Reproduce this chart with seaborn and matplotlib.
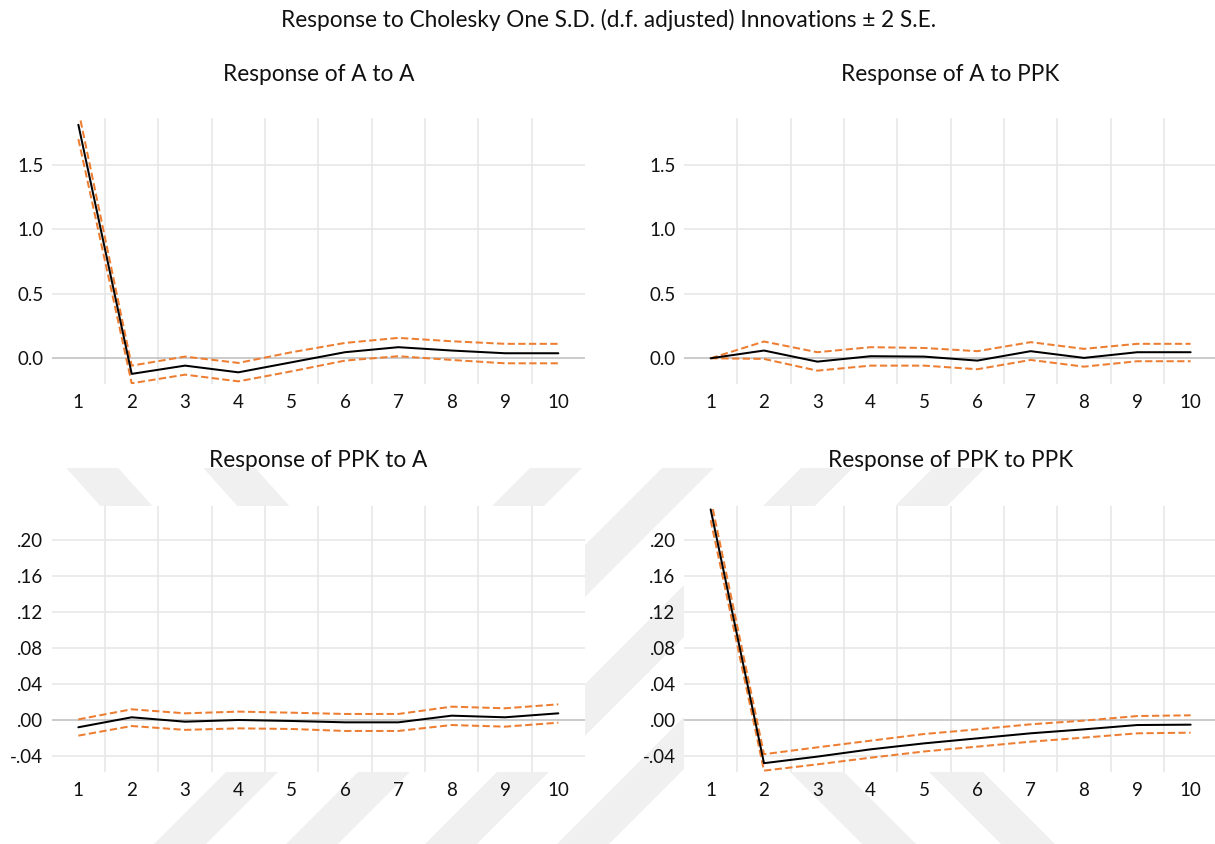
import numpy as np
import pandas as pd
import seaborn as sns
import matplotlib
matplotlib.use("Agg")
import matplotlib.pyplot as plt
from matplotlib.patches import Polygon

# ---- impulse responses (periods 1..10) --------------------------------------
periods = list(range(1, 11))

a_to_a = [1.811, -0.121, -0.057, -0.109, -0.031, 0.047, 0.086, 0.060, 0.039, 0.039]
a_to_a_hi = [1.925, -0.057, 0.013, -0.036, 0.047, 0.119, 0.158, 0.132, 0.112, 0.112]
a_to_a_lo = [1.700, -0.194, -0.127, -0.179, -0.101, -0.018, 0.016, -0.013, -0.039, -0.039]

a_to_ppk = [0.000, 0.060, -0.026, 0.016, 0.013, -0.018, 0.055, 0.003, 0.047, 0.047]
a_to_ppk_hi = [0.000, 0.130, 0.047, 0.086, 0.080, 0.055, 0.125, 0.073, 0.112, 0.112]
a_to_ppk_lo = [0.000, -0.005, -0.096, -0.057, -0.057, -0.085, -0.013, -0.065, -0.023, -0.023]

ppk_to_a = [-0.0081, 0.0030, -0.0019, 0.0000, -0.0011, -0.0026, -0.0026, 0.0048, 0.0030, 0.0074]
ppk_to_a_hi = [0.0007, 0.0119, 0.0074, 0.0093, 0.0081, 0.0067, 0.0067, 0.0148, 0.0130, 0.0174]
ppk_to_a_lo = [-0.0174, -0.0067, -0.0110, -0.0093, -0.0100, -0.0122, -0.0122, -0.0056, -0.0074, -0.0030]

ppk_to_ppk = [0.234, -0.0480, -0.0407, -0.0326, -0.0260, -0.0204, -0.0148, -0.0104, -0.0056, -0.0052]
ppk_to_ppk_hi = [0.246, -0.0380, -0.0304, -0.0230, -0.0156, -0.0104, -0.0048, -0.0007, 0.0044, 0.0052]
ppk_to_ppk_lo = [0.222, -0.0563, -0.0493, -0.0419, -0.0350, -0.0296, -0.0241, -0.0196, -0.0148, -0.0141]

panel_titles = ["Response of A to A", "Response of A to PPK",
                "Response of PPK to A", "Response of PPK to PPK"]
main_title = "Response to Cholesky One S.D. (d.f. adjusted) Innovations \u00b1 2 S.E."

top_ticks = [0.0, 0.5, 1.0, 1.5]
top_labels = ["0.0", "0.5", "1.0", "1.5"]
bottom_ticks = [-0.04, 0.00, 0.04, 0.08, 0.12, 0.16, 0.20]
bottom_labels = ["-.04", ".00", ".04", ".08", ".12", ".16", ".20"]

# ---- style -------------------------------------------------------------------
sns.set_theme(style="white")
plt.rcParams["font.family"] = ["Lato", "DejaVu Sans"]

RESP_COLOR = "#000000"
BAND_COLOR = "#ED7D31"
GRID_COLOR = "#E6E6E6"
ZERO_COLOR = "#BDBDBD"
MARK_COLOR = "#F0F0F0"
TEXT_COLOR = "#111111"

W, H = 1215, 844
fig = plt.figure(figsize=(W / 100, H / 100), dpi=100)
fig.patch.set_facecolor("white")


def px_axes(left, top, right, bottom):
    return fig.add_axes([left / W, 1 - bottom / H, (right - left) / W, (bottom - top) / H])


def fig_pt(x, y):
    return (x / W, 1 - y / H)


# ---- faint page watermark (diagonal bands behind the panels) -----------------
def band(x_left, width, y_ref, y_top, y_bot, slope):
    # slope = dx/dy; positive leans "\", negative leans "/"
    xs_top = x_left + slope * (y_top - y_ref)
    xs_bot = x_left + slope * (y_bot - y_ref)
    verts = [fig_pt(xs_top, y_top), fig_pt(xs_top + width, y_top),
             fig_pt(xs_bot + width, y_bot), fig_pt(xs_bot, y_bot)]
    fig.add_artist(Polygon(verts, closed=True, transform=fig.transFigure,
                           facecolor=MARK_COLOR, edgecolor="none", zorder=-5))


for xl in (225, 357, 496, 628):          # long "/" bands
    band(xl, 52, 773, 468, 844, -1.0)
for xl in (68, 205):                      # upper "\" bands
    band(xl, 52, 470, 468, 600, 0.9)
for xl in (791, 930):                     # lower "\" bands
    band(xl, 54, 773, 720, 844, 1.0)

axes = [
    px_axes(51.7, 118.3, 585.0, 384.0),
    px_axes(684.0, 118.3, 1217.3, 384.0),
    px_axes(51.7, 506.0, 585.0, 772.0),
    px_axes(684.0, 506.0, 1217.3, 772.0),
]

panels = [
    (a_to_a, a_to_a_hi, a_to_a_lo, top_ticks, top_labels, (-0.1995, 1.861)),
    (a_to_ppk, a_to_ppk_hi, a_to_ppk_lo, top_ticks, top_labels, (-0.1995, 1.861)),
    (ppk_to_a, ppk_to_a_hi, ppk_to_a_lo, bottom_ticks, bottom_labels, (-0.0578, 0.2378)),
    (ppk_to_ppk, ppk_to_ppk_hi, ppk_to_ppk_lo, bottom_ticks, bottom_labels, (-0.0578, 0.2378)),
]

dash = (0, (3.6, 1.7))
title_baselines = [81, 81, 466.7, 466.7]

for ax, title, base, (resp, hi, lo, yt, yl, ylim) in zip(axes, panel_titles, title_baselines, panels):
    ax.set_facecolor("white")
    ax.set_zorder(1)
    df = pd.DataFrame({"period": periods, "resp": resp, "hi": hi, "lo": lo})

    # grid: horizontal at y ticks, vertical between periods
    for y in yt:
        ax.axhline(y, color=ZERO_COLOR if y == 0 else GRID_COLOR,
                   lw=1.1, zorder=0.6 if y == 0 else 0.5)
    for xv in np.arange(1.5, 10.0, 1.0):
        ax.axvline(xv, color=GRID_COLOR, lw=1.1, zorder=0.4)

    sns.lineplot(data=df, x="period", y="hi", ax=ax, color=BAND_COLOR,
                 lw=1.45, linestyle=dash, zorder=2)
    sns.lineplot(data=df, x="period", y="lo", ax=ax, color=BAND_COLOR,
                 lw=1.45, linestyle=dash, zorder=2)
    sns.lineplot(data=df, x="period", y="resp", ax=ax, color=RESP_COLOR,
                 lw=1.45, zorder=3)

    ax.set_xlim(0.5, 10.5)
    ax.set_ylim(*ylim)
    ax.set_xticks(periods)
    ax.set_xticklabels([str(p) for p in periods])
    ax.set_yticks(yt)
    ax.set_yticklabels(yl)
    ax.set_xlabel("")
    ax.set_ylabel("")
    ax.tick_params(axis="both", length=0, labelsize=13.5, colors=TEXT_COLOR)
    ax.tick_params(axis="x", pad=7)
    ax.tick_params(axis="y", pad=6)
    for s in ax.spines.values():
        s.set_visible(False)
    ax.grid(False)

    bb = ax.get_position()
    fig.text(bb.x0 + bb.width / 2, 1 - base / H, title,
             ha="center", va="baseline", fontsize=16.3, color=TEXT_COLOR, zorder=5)

fig.text(609 / W, 1 - 27 / H, main_title, ha="center", va="baseline",
         fontsize=16.3, color=TEXT_COLOR, zorder=5)

fig.savefig("out.png", dpi=100, facecolor="white")
